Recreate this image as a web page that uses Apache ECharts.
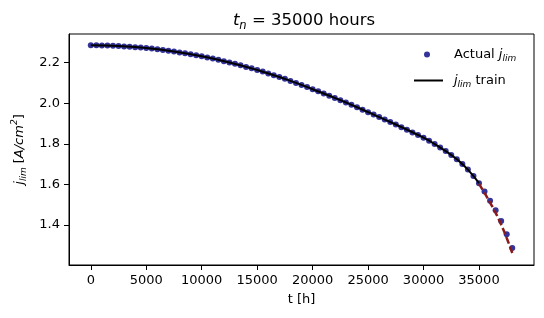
<!DOCTYPE html>
<html>
<head>
<meta charset="utf-8">
<script src="https://cdn.jsdelivr.net/npm/echarts@6/dist/echarts.min.js"></script>
<style>html,body{margin:0;padding:0;background:#fff}#c{width:544px;height:318px}</style>
</head>
<body>
<div id="c"></div>
<script>
// Time (hours) of the measured points
var timeH = [0,500,1000,1500,2000,2500,3000,3500,4000,4500,5000,5500,6000,6500,7000,7500,8000,8500,9000,9500,
  10000,10500,11000,11500,12000,12500,13000,13500,14000,14500,15000,15500,16000,16500,17000,17500,18000,18500,19000,19500,
  20000,20500,21000,21500,22000,22500,23000,23500,24000,24500,25000,25500,26000,26500,27000,27500,28000,28500,29000,29500,
  30000,30500,31000,31500,32000,32500,33000,33500,34000,34500,35000,35500,36000,36500,37000,37500,38000];
// Actual j_lim values
var actualJ = [2.285,2.285,2.284,2.284,2.283,2.282,2.280,2.278,2.276,2.274,2.272,2.269,2.266,2.262,2.259,2.255,2.250,2.246,2.241,2.236,
  2.231,2.225,2.220,2.214,2.207,2.201,2.194,2.187,2.179,2.172,2.164,2.156,2.147,2.138,2.129,2.120,2.110,2.100,2.090,2.080,
  2.069,2.059,2.048,2.037,2.026,2.015,2.003,1.992,1.980,1.968,1.956,1.944,1.932,1.920,1.908,1.895,1.882,1.869,1.856,1.843,
  1.830,1.815,1.799,1.782,1.764,1.745,1.724,1.701,1.673,1.642,1.606,1.565,1.520,1.473,1.420,1.355,1.287];
// Training fit (0 .. 35000 h)
var trainT = [0,2500,5000,7500,10000,12500,15000,17500,20000,22500,25000,27500,30000,31000,32000,33000,34000,35000];
var trainJ = [2.285,2.282,2.272,2.255,2.231,2.201,2.164,2.120,2.069,2.015,1.956,1.895,1.830,1.799,1.764,1.724,1.673,1.606];
// Prediction (35000 .. 38000 h)
var predT = [35000,35500,36000,36500,37000,37500,38000];
var predJ = [1.603,1.558,1.510,1.460,1.402,1.336,1.262];
// Tick labels
var xTicks = [0,5000,10000,15000,20000,25000,30000,35000];
var yTicks = [1.4,1.6,1.8,2.0,2.2];

function pairs(a,b){var r=[];for(var i=0;i<a.length;i++)r.push([a[i],b[i]]);return r;}

var FONT = 'DejaVu Sans';
var FS = 13;
var richBase = {
  j:{fontFamily:FONT,fontStyle:'italic',fontSize:FS,lineHeight:18,color:'#000'},
  sub:{fontFamily:FONT,fontStyle:'italic',fontSize:9,lineHeight:12,verticalAlign:'bottom',color:'#000'},
  n:{fontFamily:FONT,fontSize:FS,lineHeight:18,color:'#000'},
  sup:{fontFamily:FONT,fontStyle:'italic',fontSize:9,lineHeight:12,verticalAlign:'top',color:'#000'},
  pad1:{width:19},
  pad2:{width:6}
};

var chart = echarts.init(document.getElementById('c'), null, {renderer:'canvas'});
chart.setOption({
  animation:false,
  backgroundColor:'#fff',
  title:{
    text:'{it|t}{sub|n}{r| = 35000 hours}',
    left:299, textAlign:'center', top:5,
    textStyle:{fontWeight:'normal',rich:{
      it:{fontFamily:FONT,fontStyle:'italic',fontWeight:'normal',fontSize:16.5,lineHeight:22,color:'#000'},
      sub:{fontFamily:FONT,fontStyle:'italic',fontWeight:'normal',fontSize:11.5,lineHeight:15,verticalAlign:'bottom',color:'#000'},
      r:{fontFamily:FONT,fontWeight:'normal',fontSize:16.5,lineHeight:22,color:'#000'}
    }}
  },
  grid:{left:69,right:10,top:34,bottom:53,show:true,borderColor:'#000',borderWidth:1,backgroundColor:'transparent'},
  legend:[
    {data:[{name:'Actual',icon:'circle'}],left:424,top:48,padding:0,itemWidth:6,itemHeight:6,
     formatter:function(){return '{pad1|}{n|Actual }{j|j}{sub|lim}';},
     textStyle:{rich:richBase}},
    {data:[{name:'train',icon:'rect'}],left:414,top:74,padding:0,itemWidth:29,itemHeight:2,
     formatter:function(){return '{pad2|}{j|j}{sub|lim}{n| train}';},
     textStyle:{rich:richBase}}
  ],
  xAxis:{
    type:'value', min:-1966, max:39960,
    name:'t [h]', nameLocation:'middle', nameGap:28,
    nameTextStyle:{fontFamily:FONT,fontSize:FS,color:'#000'},
    axisLine:{show:true,onZero:false,lineStyle:{color:'#000',width:1}},
    axisTick:{show:true,length:5,customValues:xTicks,lineStyle:{color:'#000'}},
    axisLabel:{customValues:xTicks,margin:9,fontFamily:FONT,fontSize:FS,color:'#000',
      formatter:function(v){return String(Math.round(v));}},
    splitLine:{show:false}
  },
  yAxis:{
    type:'value', min:1.203, max:2.341,
    name:'{j|j}{sub|lim}{n| [}{j|A/cm}{sup|2}{n|]}',
    nameLocation:'middle', nameGap:38, nameRotate:90,
    nameTextStyle:{rich:richBase},
    axisLine:{show:true,onZero:false,lineStyle:{color:'#000',width:1}},
    axisTick:{show:true,length:5,customValues:yTicks,lineStyle:{color:'#000'}},
    axisLabel:{customValues:yTicks,margin:9,fontFamily:FONT,fontSize:FS,color:'#000',
      formatter:function(v){return v.toFixed(1);}},
    splitLine:{show:false}
  },
  series:[
    {name:'Actual',type:'scatter',data:pairs(timeH,actualJ),symbol:'circle',symbolSize:6,
     itemStyle:{color:'#000080'},z:2},
    {name:'train',type:'line',data:pairs(trainT,trainJ),smooth:true,showSymbol:false,symbol:'none',
     lineStyle:{color:'#000',width:2},itemStyle:{color:'#000'},z:3},
    {name:'pred',type:'line',data:pairs(predT,predJ),smooth:true,showSymbol:false,symbol:'none',
     lineStyle:{color:'#8b1a1a',width:2.5,type:[7,3]},z:3}
  ]
});
</script>
</body>
</html>
